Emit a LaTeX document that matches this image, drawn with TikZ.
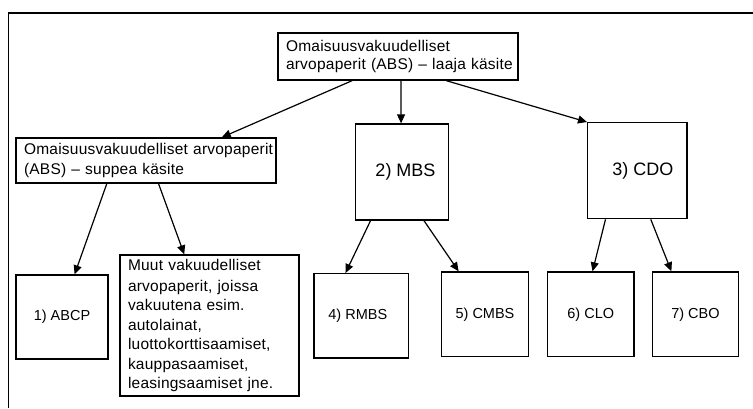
\documentclass[tikz,border=0pt]{standalone}
\usepackage{fontspec}
\setmainfont{Liberation Sans}
\newfontfamily\spaced[LetterSpace=1.5]{Liberation Sans}
\usetikzlibrary{arrows.meta,calc}
\begin{document}
\begin{tikzpicture}[x=1pt,y=-1pt,
  box/.style={draw,line width=1.3pt,rectangle,inner sep=0pt},
  txtbox/.style={box,align=left,inner xsep=8pt,inner ysep=0pt},
  arr/.style={line width=1.2pt,-{Triangle[length=9pt,width=8pt]}},
  big/.style={font=\fontsize{18}{21}\selectfont},
  small/.style={font=\fontsize{14.5}{17}\selectfont}]
\useasboundingbox (0,0) rectangle (753,408);
% frame
\coordinate (fa) at (8.5,408);
\coordinate (fb) at (8.5,13);
\coordinate (fc) at (753,13);
\draw[line width=1.5pt] (fa) -- (fb) -- (fc);
% boxes
\node[txtbox,text width=224pt,minimum height=47pt,font=\spaced\fontsize{15.5}{18}\selectfont] (top) at (398,56.5)
  {\mbox{Omaisuusvakuudelliset}\\\mbox{arvopaperit (ABS) – laaja käsite}};
\node[txtbox,text width=244pt,minimum height=45pt,font=\spaced\fontsize{15.5}{20}\selectfont] (absn) at (146,160.5)
  {\mbox{Omaisuusvakuudelliset arvopaperit}\\\mbox{(ABS) – suppea käsite}};
\node[box,big,minimum width=92.6pt,minimum height=96pt] (mbs) at (402,172) {\hspace*{7pt}2) MBS};
\node[box,big,minimum width=99.3pt,minimum height=96pt] (cdo) at (637.3,170.7) {\hspace*{11pt}3) CDO};
\node[box,small,minimum width=92pt,minimum height=84pt] (abcp) at (62,317) {1) ABCP};
\node[txtbox,text width=163pt,minimum height=141pt,font=\spaced\fontsize{15.5}{19.5}\selectfont] (muut) at (209.5,325.5)
  {\mbox{Muut vakuudelliset}\\[1.5pt]\mbox{arvopaperit, joissa}\\\mbox{vakuutena esim.}\\\mbox{autolainat,}\\\mbox{luottokorttisaamiset,}\\\mbox{kauppasaamiset,}\\\mbox{leasingsaamiset jne.}};
\node[box,small,minimum width=94.7pt,minimum height=84.3pt] (rmbs) at (361.3,315.8) {\hspace*{-7pt}4) RMBS};
\node[box,small,minimum width=86.6pt,minimum height=84.7pt] (cmbs) at (485,314.3) {5) CMBS};
\node[box,small,minimum width=86.3pt,minimum height=84.7pt] (clo) at (590.8,314.3) {6) CLO};
\node[box,small,minimum width=86.4pt,minimum height=84.7pt] (cbo) at (695.5,314.3) {7) CBO};
% connectors
\draw[arr] ($(top.south west)!0.31!(top.south east)$) -- ($(absn.north west)!0.79!(absn.north east)$);
\draw[arr] ($(top.south west)!0.5125!(top.south east)$) -- ($(mbs.north west)!0.49!(mbs.north east)$);
\draw[arr] ($(top.south west)!0.70!(top.south east)$) -- (cdo.north west);
\draw[arr] ($(absn.south west)!0.35!(absn.south east)$) -- ($(abcp.north west)!0.635!(abcp.north east)$);
\draw[arr] ($(absn.south west)!0.548!(absn.south east)$) -- ($(muut.north west)!0.36!(muut.north east)$);
\draw[arr] ($(mbs.south west)!0.165!(mbs.south east)$) -- ($(rmbs.north west)!0.335!(rmbs.north east)$);
\draw[arr] ($(mbs.south west)!0.734!(mbs.south east)$) -- ($(cmbs.north west)!0.2!(cmbs.north east)$);
\draw[arr] ($(cdo.south west)!0.184!(cdo.south east)$) -- ($(clo.north west)!0.52!(clo.north east)$);
\draw[arr] ($(cdo.south west)!0.634!(cdo.south east)$) -- ($(cbo.north west)!0.225!(cbo.north east)$);
\end{tikzpicture}
\end{document}
